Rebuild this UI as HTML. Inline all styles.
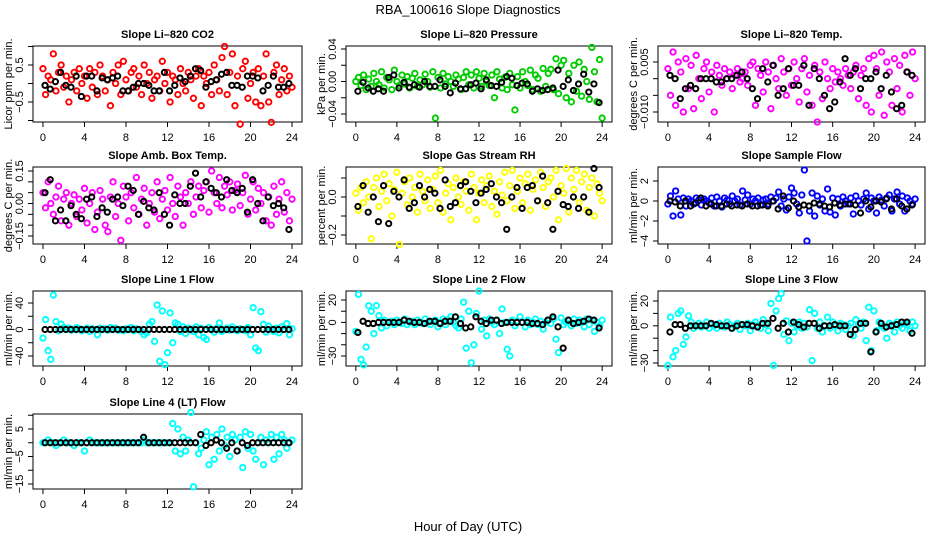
<!DOCTYPE html>
<html><head><meta charset="utf-8"><style>
html,body{margin:0;padding:0;background:#fff;}
svg{display:block;font-family:"Liberation Sans",sans-serif;}
</style></head><body>
<svg id="chart" width="936" height="540" viewBox="0 0 936 540" xmlns="http://www.w3.org/2000/svg">
<text x="468" y="14" text-anchor="middle" font-size="13">RBA_100616  Slope Diagnostics</text>
<text x="468" y="531" text-anchor="middle" font-size="13">Hour of Day (UTC)</text>
</svg>
<script>
const xTicks = [0,4,8,12,16,20,24];
const co2Vals = [0.4,-0.3,0.2,0.1,0.8,-0.2,0.3,0.5,-0.1,0.2,-0.5,0.1,0.3,-0.2,0.4,0.0,0.2,-0.4,0.4,-0.1,0.3,-0.3,0.5,0.2,-0.2,0.1,-0.6,0.3,0.0,0.5,-0.3,0.6,0.1,-0.2,0.3,0.4,-0.1,0.2,-0.3,0.5,0.0,0.3,-0.4,0.1,0.2,-0.2,0.6,0.0,0.3,-0.5,0.2,0.1,-0.3,0.4,0.0,-0.2,0.3,0.1,-0.4,0.2,0.4,-0.6,0.2,0.0,0.3,-0.3,0.5,0.1,-0.2,0.7,1.0,-0.3,0.3,0.8,-0.6,0.2,-1.1,0.4,0.6,-0.4,0.0,0.3,-0.5,0.4,-0.6,0.2,0.8,-0.5,-1.05,0.3,0.5,-0.3,0.1,0.4,-0.2,0.2,-0.1];
const co2Black = [-0.05,-0.15,0.05,0.3,-0.05,-0.1,0.2,-0.35,0.2,0.2,-0.2,0.15,0.1,0.15,0.2,-0.2,-0.2,-0.1,0,0,-0.05,-0.2,-0.2,0.3,-0.2,-0.05,0.15,0.05,0.2,0.4,0.35,-0.1,0.05,0.1,0.25,0.3,-0.05,-0.05,-0.1,0.2,0.2,0.15,-0.2,-0.05,0.2,-0.1,-0.1,0.0];
const presVals = [0.0,0.005,-0.005,0.008,-0.01,0.003,-0.006,0.01,0.0,-0.004,0.012,-0.008,0.005,0.002,-0.01,0.014,0.0,-0.005,0.008,-0.003,0.006,-0.008,0.004,0.01,-0.006,0.002,-0.004,0.009,0.0,-0.007,0.012,-0.045,0.005,-0.008,0.01,-0.003,0.006,0.0,-0.006,0.008,0.003,-0.01,0.005,0.012,-0.004,0.008,-0.008,0.012,0.004,-0.006,0.01,0.0,-0.005,0.008,-0.02,0.012,0.003,-0.008,0.005,-0.01,0.01,-0.004,-0.035,0.006,-0.008,0.012,0.0,-0.005,0.014,-0.01,0.008,0.004,-0.012,0.016,-0.006,0.01,0.015,-0.01,0.028,-0.015,0.02,0.026,-0.02,0.01,-0.025,0.02,-0.012,0.024,-0.018,0.015,0.0,-0.022,0.042,0.012,-0.025,0.027,-0.045];
const presBlack = [-0.012,-0.001,-0.008,-0.012,-0.009,-0.012,0.005,0.008,-0.008,-0.001,-0.007,-0.004,-0.007,0.0,-0.006,-0.006,0.002,-0.006,-0.014,-0.002,-0.009,-0.009,-0.004,-0.002,-0.009,0.002,-0.005,-0.006,-0.001,0.006,0.004,-0.005,-0.002,-0.003,-0.012,-0.009,-0.011,-0.01,-0.008,0.014,-0.006,0.002,-0.011,-0.003,0.009,-0.013,-0.003,-0.026];
const tempVals = [0.003,-0.005,0.008,-0.008,0.005,0.002,-0.01,0.006,-0.003,0.004,-0.009,0.007,0.0,-0.006,0.003,0.005,-0.004,0.002,-0.01,0.004,0.001,-0.002,0.003,0.0,0.002,-0.003,0.001,0.003,-0.001,0.0,0.002,-0.002,0.004,0.005,-0.008,0.003,0.001,-0.004,0.005,0.002,-0.009,0.004,0.0,-0.003,0.006,0.002,-0.005,0.003,-0.002,0.005,0.0,-0.007,0.003,0.006,-0.004,0.001,-0.008,0.004,-0.013,0.002,-0.006,0.005,0.0,-0.003,0.003,-0.001,0.002,0.0,-0.002,0.003,0.001,-0.003,0.002,0.004,-0.006,0.001,0.003,-0.008,0.006,-0.01,0.007,0.003,-0.005,0.008,-0.011,0.005,0.002,-0.008,0.006,-0.003,0.004,-0.01,0.007,0.002,-0.005,0.008,0.0];
const tempBlack = [0.001,0.0,-0.006,-0.003,-0.002,-0.003,0.0,0.0,0.0,-0.001,-0.001,0.0,0.0,0.001,0.002,0.0,-0.003,-0.006,0.003,-0.001,0.004,-0.005,-0.003,0.003,-0.002,-0.002,0.004,-0.008,0.003,0.0,-0.005,-0.009,-0.007,-0.001,0.006,0.001,0.003,-0.003,0.0,0.0,0.002,-0.003,0.001,-0.004,-0.009,-0.008,0.002,0.001];
const ambVals = [0.05,-0.02,0.1,0.0,-0.05,0.03,0.08,-0.08,0.02,0.05,-0.1,0.0,0.04,-0.06,0.02,-0.03,0.07,-0.09,0.0,0.05,-0.12,-0.04,0.06,0.02,-0.1,-0.13,0.03,0.1,-0.06,0.0,-0.17,0.08,0.03,-0.08,0.05,-0.02,0.12,-0.05,0.02,0.07,-0.1,0.0,0.05,-0.04,0.1,-0.07,0.02,0.06,-0.03,0.12,0.0,-0.06,0.08,0.03,-0.1,0.05,0.0,0.1,-0.05,0.03,0.08,-0.02,0.06,0.1,-0.04,0.15,0.05,0.0,0.12,-0.02,0.08,0.04,0.1,-0.03,0.06,0.09,-0.01,0.05,0.13,-0.05,0.02,0.1,-0.03,0.07,0.0,0.05,-0.08,0.03,-0.1,0.08,-0.05,0.02,0.1,-0.04,0.05,-0.08,0.02];
const ambBlack = [0.05,0.11,-0.08,-0.03,-0.08,-0.01,-0.05,-0.07,0.02,0.03,-0.06,-0.02,-0.04,0.02,0.03,-0.01,0.08,0.06,-0.05,0.01,-0.02,-0.03,0.05,-0.05,-0.1,0.04,0.0,0.0,0.08,0.14,0.03,0.1,0.07,0.05,0.03,0.11,0.06,0.05,0.07,-0.04,0.11,0.0,-0.08,0.03,-0.01,0.0,-0.02,-0.12];
const rhVals = [0.02,-0.07,0.05,-0.03,0.08,0.0,-0.22,0.05,0.1,-0.05,0.03,0.12,-0.02,0.07,-0.1,0.04,0.13,-0.25,0.02,0.08,-0.04,0.1,0.0,0.05,-0.08,0.12,0.03,-0.02,0.09,-0.06,0.04,0.11,-0.03,0.14,-0.08,0.02,0.07,-0.12,0.05,0.1,0.0,-0.04,0.08,0.03,-0.07,0.12,0.05,-0.12,0.02,0.09,-0.03,0.06,0.11,-0.05,0.03,-0.09,0.08,0.01,0.13,-0.02,0.06,0.14,-0.06,0.03,0.1,-0.03,0.07,0.12,-0.07,0.04,0.09,-0.02,0.13,0.05,-0.05,0.08,0.1,0.0,0.14,-0.12,0.06,0.02,0.15,-0.08,0.1,0.04,0.14,-0.03,0.08,0.12,-0.07,0.05,0.1,-0.1,0.07,0.02,-0.02];
const rhBlack = [-0.05,0.06,-0.08,0.0,-0.13,0.06,-0.14,0.03,0.0,0.09,-0.06,-0.03,0.06,0.0,0.04,0.02,-0.06,0.09,-0.05,-0.03,0.06,0.08,0.03,-0.03,0.02,0.04,0.07,0.0,-0.03,-0.17,0.0,0.05,-0.06,0.05,0.06,-0.02,0.11,-0.03,-0.17,0.03,-0.04,-0.05,0.0,-0.06,0.0,-0.08,0.15,0.05];
const flowVals = [-0.3,0.5,-1.5,1.0,0.2,-1.4,0.3,-0.5,0.2,0.0,-0.3,0.3,0.1,-0.4,0.2,0.0,-0.2,0.3,-0.5,0.4,0.0,-0.6,0.3,0.1,-0.3,0.5,0.0,0.2,-0.4,1.0,0.1,0.6,-0.3,0.2,0.0,0.3,-0.4,0.1,0.2,-0.3,0.4,0.0,0.3,0.9,-0.5,0.2,-0.9,0.4,1.3,0.8,-0.3,-1.2,0.6,3.1,-4.0,-1.0,0.8,-1.5,0.5,-0.4,0.2,-1.0,1.2,-1.1,0.3,-1.4,0.2,-0.5,0.4,0.0,-0.3,0.3,-1.3,0.5,0.0,-0.4,0.2,0.8,-0.8,0.3,0.0,-1.2,0.4,0.1,-0.5,0.3,0.6,-1.0,0.2,0.9,-0.3,0.5,-1.0,0.3,0.0,-0.3,0.2];
const flowBlack = [0.0,-0.1,-0.5,0.0,-0.5,-0.2,0.3,-0.5,-0.3,-0.5,-0.5,-0.3,-0.5,-0.4,-0.5,-0.3,-0.5,-0.5,-0.4,-0.5,0.0,-0.8,0.5,-0.7,0.0,-0.6,-0.4,-0.5,-0.2,-0.3,-0.5,-0.6,-0.2,-0.4,-0.3,-0.3,-0.4,-1.2,0.0,-0.6,0.0,-0.1,0.2,-0.8,0.2,-0.5,-0.8,-0.4];
const line1Vals = [-13,15,-32,-45,52,12,-2,8,3,0,2,-1,0,3,1,-2,0,2,-3,1,0,-8,2,0,1,-1,3,0,2,-1,0,-2,1,0,3,-2,1,0,-3,-8,-5,8,12,-18,37,-48,28,-53,-35,25,-20,10,8,-3,4,-6,2,0,-3,4,-8,2,-12,-15,3,0,-4,2,10,-3,0,2,-1,4,0,-2,1,0,-2,3,-8,33,-28,-32,27,8,-4,5,0,-3,2,-5,4,0,9,-8,1];
const line1Black = [0,0,0,0,0,0,0,0,0,0,0,0,0,0,0,0,0,0,0,0,0,0,0,0,0,0,0,0,0,0,0,0,0,0,0,0,0,0,0,0,0,0,0,0,0,0,0,0];
const line2Vals = [-8,25,-33,-38,-22,15,10,-10,15,6,-5,2,-3,0,1,-2,2,0,-1,3,-2,0,1,-2,2,0,-1,3,0,-2,1,2,-4,0,3,-2,2,5,0,-3,-5,3,18,-23,10,-36,-20,8,28,-6,2,-12,3,0,-2,2,-10,12,0,-24,-30,2,-3,1,5,0,-4,2,-2,0,3,-2,1,-6,0,2,-1,3,-15,-27,4,-2,0,2,-3,3,-1,2,0,-4,3,-2,2,-8,0,-3,2];
const line2Black = [-9,1,-1,-1,0,0,0,0,0,2,1,0,0,-1,1,1,-1,1,1,5,-1,-5,-4,5,1,-1,2,2,-1,0,0,0,0,0,-1,-1,-2,2,5,-4,-23,2,-1,0,1,3,2,-5];
const line3Vals = [-32,7,-25,-20,10,12,-15,-9,8,3,-2,0,2,-1,0,3,-2,1,0,-2,2,0,-1,3,1,-2,0,2,-3,1,0,2,-4,1,3,0,-2,5,1,-4,18,-32,12,22,26,-7,4,-12,2,-5,0,3,-2,2,-1,13,-28,10,-2,3,-5,0,7,-2,3,0,-4,2,1,-3,0,2,-8,5,1,-2,3,-12,15,-20,12,-4,3,0,-2,-10,2,1,-5,3,0,-2,2,1,-4,3,0];
const line3Black = [-5,1,1,-2,0,0,0,0,2,1,0,0,-2,0,1,1,0,-1,2,2,6,-2,2,-5,3,1,-1,2,2,-2,0,0,1,0,0,-7,-3,2,2,-21,-5,2,-1,0,1,3,3,-6];
const line4Vals = [0,0,1,0,0,-1,0,0,1,0,0,0,-1,0,0,0,-3,0,1,0,0,0,0,0,0,0,0,0,0,0,0,0,0,0,0,0,0,0,0,1,0,0,0,0,0,0,0,0,0,0,7,-3,5,-4,2,-3,1,11,-16,0,-4,-2,1,4,-8,2,-6,3,-3,5,-1,2,-5,3,1,-3,2,-9,4,-2,3,-3,-6,0,2,-8,1,0,3,-6,2,-4,3,1,-2,0,1];
const line4Black = [0,0,0,0,0,0,0,0,0,0,0,0,0,0,0,0,0,0,0,2,0,0,0,0,0,0,0,0,0,0,3,-1,0,1,0,-2,0,-3,0,-1,0,0,0,0,0,0,0,0];

const panels = [
 {name:'co2',title:'Slope Li\u2013820 CO2',ylab:'Licor ppm per min.',color:'#ff0000',col:0,row:0,vals:co2Vals,black:co2Black,ref:[0.5,65,-0.5,102],ticks:[-1,-0.5,0,0.5,1],tl:{'0.5':'0.5','-0.5':'\u22120.5'}},
 {name:'pressure',title:'Slope Li\u2013820 Pressure',ylab:'kPa per min.',color:'#00cd00',col:1,row:0,vals:presVals,black:presBlack,ref:[0.04,49,-0.04,114],ticks:[-0.04,-0.02,0,0.02,0.04],tl:{'0.04':'0.04','0':'0.00','-0.04':'\u22120.04'}},
 {name:'temp',title:'Slope Li\u2013820 Temp.',ylab:'degrees C per min.',color:'#ff00ff',col:2,row:0,vals:tempVals,black:tempBlack,ref:[0.005,62,-0.01,112],ticks:[-0.01,-0.005,0,0.005],tl:{'0.005':'0.005','-0.01':'\u22120.010'}},
 {name:'amb-box-temp',title:'Slope Amb. Box Temp.',ylab:'degrees C per min.',color:'#ff00ff',col:0,row:1,vals:ambVals,black:ambBlack,ref:[0.15,171,-0.15,236],ticks:[-0.15,-0.1,-0.05,0,0.05,0.1,0.15],tl:{'0.15':'0.15','0':'0.00','-0.15':'\u22120.15'}},
 {name:'gas-stream-rh',title:'Slope Gas Stream RH',ylab:'percent per min.',color:'#ffff00',col:1,row:1,vals:rhVals,black:rhBlack,ref:[0,197,-0.2,235],ticks:[-0.2,-0.1,0,0.1],tl:{'0':'0.0','-0.2':'\u22120.2'}},
 {name:'sample-flow',title:'Slope Sample Flow',ylab:'ml/min per min.',color:'#0000ff',col:2,row:1,vals:flowVals,black:flowBlack,ref:[2,181,-4,241],ticks:[-4,-2,0,2],tl:{'2':'2','0':'0','-2':'\u22122','-4':'\u22124'}},
 {name:'line1-flow',title:'Slope Line 1 Flow',ylab:'ml/min per min.',color:'#00ffff',col:0,row:2,vals:line1Vals,black:line1Black,ref:[40,303,-40,356],ticks:[-40,-20,0,20,40],tl:{'40':'40','0':'0','-40':'\u221240'}},
 {name:'line2-flow',title:'Slope Line 2 Flow',ylab:'ml/min per min.',color:'#00ffff',col:1,row:2,vals:line2Vals,black:line2Black,ref:[20,300,-30,356],ticks:[-30,-20,-10,0,10,20],tl:{'20':'20','0':'0','-30':'\u221230'}},
 {name:'line3-flow',title:'Slope Line 3 Flow',ylab:'ml/min per min.',color:'#00ffff',col:2,row:2,vals:line3Vals,black:line3Black,ref:[20,301,-30,363],ticks:[-30,-20,-10,0,10,20],tl:{'20':'20','0':'0','-30':'\u221230'}},
 {name:'line4-flow',title:'Slope Line 4 (LT) Flow',ylab:'ml/min per min.',color:'#00ffff',col:0,row:3,vals:line4Vals,black:line4Black,ref:[5,429,-15,484],ticks:[-15,-10,-5,0,5,10],tl:{'5':'5','-5':'\u22125','-15':'\u221215'}}
];
const colX = [[33,302],[346,612],[658,925]];
const rowY = [[46,122],[167,244],[291,366],[414,489]];
const NS = 'http://www.w3.org/2000/svg';
const svg = document.getElementById('chart');
function mk(tag, attrs, parent){const e=document.createElementNS(NS,tag);for(const k in attrs)e.setAttribute(k,attrs[k]);(parent||svg).appendChild(e);return e;}

panels.forEach(p=>{
  const [bx0,bx1]=colX[p.col], [by0,by1]=rowY[p.row];
  const xs = h => bx0 + (h + 0.96) / 25.92 * (bx1 - bx0);
  const [v1,p1,v2,p2] = p.ref;
  const ys = v => p1 + (v - v1) * (p2 - p1) / (v2 - v1);
  const g = mk('g',{});
  
  
  const box = mk('rect',{x:bx0,y:by0,width:bx1-bx0,height:by1-by0,fill:'none',stroke:'#000','stroke-width':1},g);
  
  
  const t = mk('text',{x:(bx0+bx1)/2,y:by0-8,'text-anchor':'middle','font-size':11,'font-weight':'bold'},g);
  t.textContent = p.title;
  
  
  xTicks.forEach(h=>{
    const x = xs(h);
    const tk = mk('line',{x1:x,x2:x,y1:by1,y2:by1+5,stroke:'#000'},g);
    
    
    const tl = mk('text',{x:x,y:by1+19,'text-anchor':'middle','font-size':11},g);
    tl.textContent = String(h);
    
    
  });
  p.ticks.forEach(v=>{
    const y = ys(v);
    const tk = mk('line',{x1:bx0-5,x2:bx0,y1:y,y2:y,stroke:'#000'},g);
    
    
    const lbl = p.tl[String(v)];
    if(lbl!==undefined){
      const tl = mk('text',{x:0,y:0,'text-anchor':'middle','font-size':11,transform:`translate(${bx0-10},${y}) rotate(-90)`},g);
      tl.textContent = lbl;
      
      
    }
  });
  const yl = mk('text',{x:0,y:0,'text-anchor':'middle','font-size':11,transform:`translate(${bx0-21},${(by0+by1)/2}) rotate(-90)`},g);
  yl.textContent = p.ylab;
  
  
  const n = p.vals.length;
  p.vals.forEach((v,i)=>{
    const h = i * 24 / (n - 1);
    const c = mk('circle',{cx:xs(h),cy:ys(v),r:2.7,fill:'none',stroke:p.color,'stroke-width':1.9},g);
    
    
  });
  const m = p.black.length;
  p.black.forEach((v,i)=>{
    const h = (i + 1) * 24 / m - 0.3;
    const c = mk('circle',{cx:xs(h),cy:ys(v),r:2.6,fill:'none',stroke:'#000','stroke-width':2},g);
    
    
  });
});
</script>
</body></html>
